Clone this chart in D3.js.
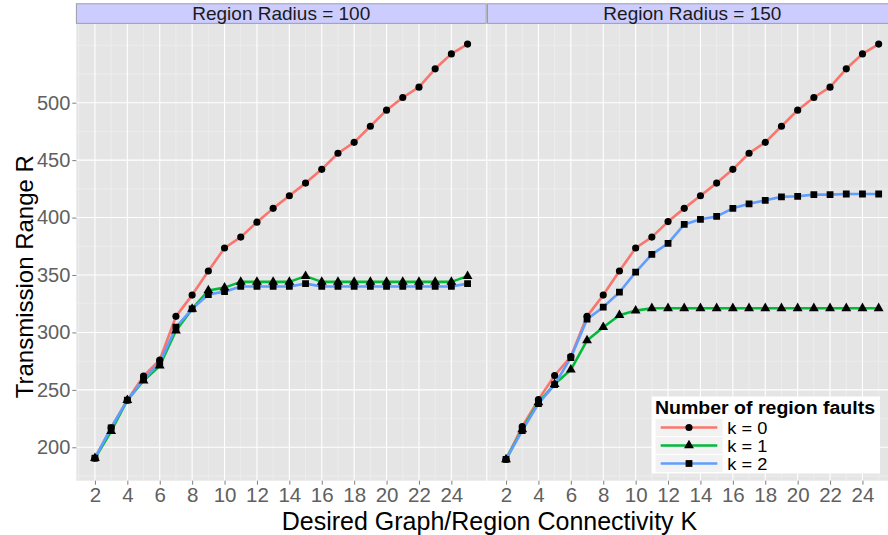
<!DOCTYPE html>
<html>
<head>
<meta charset="utf-8">
<script src="https://cdn.jsdelivr.net/npm/d3@7"></script>
<style>
  html, body { margin: 0; padding: 0; background: #fff; }
  svg { display: block; font-family: "Liberation Sans", Arial, sans-serif; }
</style>
</head>
<body>
<svg id="chart" width="888" height="535"></svg>
<script>
// Desired connectivity K on the x axis
const connectivity = [2,3,4,5,6,7,8,9,10,11,12,13,14,15,16,17,18,19,20,21,22,23,24,25];

// Transmission range R, Region Radius = 100
const r100_k0 = [190.5,217,241,262,276,314,332.5,353.5,373.5,383,396,408,419,430,442,456,465.5,479.5,493.5,504.5,513.5,529.5,542.5,551];
const r100_k1 = [190.5,214,241,258,271,301.5,320.5,336.5,339,344,344,344,344,349,344,344,344,344,344,344,344,344,344,349];
const r100_k2 = [190.5,217,241,259,273.5,304.5,320.5,333,335.5,340,340,340,340,342.5,340,340,340,340,340,340,340,340,340,342.5];

// Transmission range R, Region Radius = 150
const r150_k0 = [189.5,218,241.5,262.5,279,314,332.5,353.5,373.5,383,396.5,408,419,430,442,456,465.5,479.5,493.5,504.5,513.5,529.5,542.5,551];
const r150_k1 = [189.5,215.5,239,255,267.5,293,304.5,315,319,321,321,321,321,321,321,321,321,321,321,321,321,321,321,321];
const r150_k2 = [189.5,214.5,238,254.5,278,311.5,322,335,352.5,368,377.5,394,398.5,401,408,412,415,418,418.5,420,420,420.5,420.5,420.5];

const panelTitles = ["Region Radius = 100", "Region Radius = 150"];
const seriesNames = ["k = 0", "k = 1", "k = 2"];
const seriesColors = ["#F8766D", "#00BA38", "#619CFF"];
const seriesShapes = ["circle", "triangle", "square"];
const legendTitle = "Number of region faults";
const xTicks = [2,4,6,8,10,12,14,16,18,20,22,24];
const xMinor = [1,3,5,7,9,11,13,15,17,19,21,23,25];
const yTicks = [200,250,300,350,400,450,500];
const yMinor = [175,225,275,325,375,425,475,525,550];

const panelsData = [
  [r100_k0, r100_k1, r100_k2],
  [r150_k0, r150_k1, r150_k2]
];

const svg = d3.select("#chart");

const plotTop = 23.3, plotBottom = 480.7, stripTop = 3.8;
const panelX = [[76.3, 486.2], [487.4, 897.3]];

const y = d3.scaleLinear().domain([170.92, 569.12]).range([plotBottom, plotTop]);

function symbolPath(shape) {
  if (shape === "circle") return d3.symbol(d3.symbolCircle, 40)();
  if (shape === "triangle") return d3.symbol(d3.symbolTriangle, 42)();
  return d3.symbol(d3.symbolSquare, 46)();
}

panelsData.forEach((series, p) => {
  const [x0, x1] = panelX[p];
  const x = d3.scaleLinear().domain([0.85, 26.15]).range([x0, x1]);
  const g = svg.append("g");

  // panel background
  g.append("rect").attr("x", x0).attr("y", plotTop)
    .attr("width", x1 - x0).attr("height", plotBottom - plotTop)
    .attr("fill", "#E5E5E5");

  // minor grid
  g.selectAll(".vminor").data(xMinor).join("line")
    .attr("x1", d => x(d)).attr("x2", d => x(d))
    .attr("y1", plotTop).attr("y2", plotBottom)
    .attr("stroke", "#F2F2F2").attr("stroke-width", 0.6);
  g.selectAll(".hminor").data(yMinor).join("line")
    .attr("x1", x0).attr("x2", x1)
    .attr("y1", d => y(d)).attr("y2", d => y(d))
    .attr("stroke", "#F2F2F2").attr("stroke-width", 0.6);

  // major grid
  g.selectAll(".vmajor").data(xTicks).join("line")
    .attr("x1", d => x(d)).attr("x2", d => x(d))
    .attr("y1", plotTop).attr("y2", plotBottom)
    .attr("stroke", "#FFFFFF").attr("stroke-width", 1.1);
  g.selectAll(".hmajor").data(yTicks).join("line")
    .attr("x1", x0).attr("x2", x1)
    .attr("y1", d => y(d)).attr("y2", d => y(d))
    .attr("stroke", "#FFFFFF").attr("stroke-width", 1.1);

  // strip
  g.append("rect").attr("x", x0).attr("y", stripTop)
    .attr("width", x1 - x0).attr("height", plotTop - stripTop)
    .attr("fill", "#CCCCFF").attr("stroke", "#8C8C8C").attr("stroke-width", 0.8);
  g.append("text").attr("x", (x0 + x1) / 2).attr("y", 20.3)
    .attr("text-anchor", "middle").attr("font-size", 19).attr("fill", "#1A1A1A")
    .text(panelTitles[p]);

  // x axis
  const xAxis = d3.axisBottom(x).tickValues(xTicks).tickSize(4).tickPadding(3);
  const xa = g.append("g").attr("transform", `translate(0,${plotBottom})`).call(xAxis);
  xa.select(".domain").remove();
  xa.selectAll(".tick line").attr("stroke", "#7F7F7F");
  xa.selectAll(".tick text").attr("font-size", 20.5).attr("fill", "#606060")
    .attr("font-family", "Liberation Sans, Arial, sans-serif");

  // y axis on the first panel only
  if (p === 0) {
    const yAxis = d3.axisLeft(y).tickValues(yTicks).tickSize(4).tickPadding(2);
    const ya = g.append("g").attr("transform", `translate(${x0},0)`).call(yAxis);
    ya.select(".domain").remove();
    ya.selectAll(".tick line").attr("stroke", "#7F7F7F");
    ya.selectAll(".tick text").attr("font-size", 20).attr("fill", "#606060")
      .attr("font-family", "Liberation Sans, Arial, sans-serif");
  }

  // clip marks to the panel
  const clipId = "clip" + p;
  svg.append("clipPath").attr("id", clipId).append("rect")
    .attr("x", x0).attr("y", plotTop).attr("width", x1 - x0).attr("height", plotBottom - plotTop);
  const marks = g.append("g").attr("clip-path", `url(#${clipId})`);

  const line = d3.line().x((d, i) => x(connectivity[i])).y(d => y(d));
  series.forEach((vals, s) => {
    marks.append("path").datum(vals).attr("d", line)
      .attr("fill", "none").attr("stroke", seriesColors[s])
      .attr("stroke-width", 2.6).attr("stroke-linejoin", "round");
  });
  series.forEach((vals, s) => {
    marks.selectAll(null).data(vals).join("path")
      .attr("d", symbolPath(seriesShapes[s]))
      .attr("transform", (d, i) => `translate(${x(connectivity[i])},${y(d)})`)
      .attr("fill", "#000");
  });
});

// axis titles
svg.append("text").attr("x", 489.5).attr("y", 530)
  .attr("text-anchor", "middle").attr("font-size", 25).attr("fill", "#000")
  .text("Desired Graph/Region Connectivity K");
svg.append("text").attr("transform", "translate(33,276.7) rotate(-90)")
  .attr("text-anchor", "middle").attr("font-size", 24).attr("fill", "#000")
  .text("Transmission Range R");

// legend
const lg = svg.append("g");
lg.append("rect").attr("x", 651.7).attr("y", 396.5).attr("width", 228.3).attr("height", 77)
  .attr("fill", "#FFFFFF");
lg.append("text").attr("x", 655).attr("y", 414).attr("font-size", 18)
  .attr("font-weight", "bold").attr("fill", "#000")
  .attr("textLength", 220).attr("lengthAdjust", "spacingAndGlyphs")
  .text(legendTitle);
const rowH = 18, rowTop = 418.5;
seriesNames.forEach((name, s) => {
  const ry = rowTop + s * rowH;
  lg.append("rect").attr("x", 655).attr("y", ry).attr("width", 68).attr("height", rowH)
    .attr("fill", "#F2F2F2").attr("stroke", "#FFFFFF").attr("stroke-width", 1);
  lg.append("line").attr("x1", 660.7).attr("x2", 717.3)
    .attr("y1", ry + rowH / 2).attr("y2", ry + rowH / 2)
    .attr("stroke", seriesColors[s]).attr("stroke-width", 2.6);
  lg.append("path").attr("d", symbolPath(seriesShapes[s]))
    .attr("transform", `translate(689,${ry + rowH / 2})`).attr("fill", "#000");
  lg.append("text").attr("x", 727.3).attr("y", ry + rowH / 2 + 6)
    .attr("font-size", 16).attr("fill", "#000")
    .attr("textLength", 40).attr("lengthAdjust", "spacingAndGlyphs")
    .text(name);
});
</script>
</body>
</html>
